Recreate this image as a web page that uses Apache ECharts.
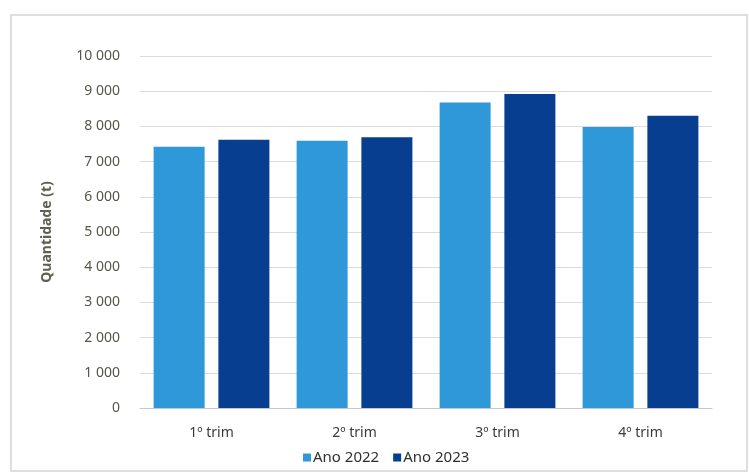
<!DOCTYPE html>
<html><head><meta charset="utf-8">
<script src="https://cdn.jsdelivr.net/npm/echarts@6/dist/echarts.min.js"></script>
<style>html,body{margin:0;padding:0;background:#fff}#c{width:749px;height:473px}</style>
</head><body><div id="c"></div>
<script>
const categories = ['1º trim', '2º trim', '3º trim', '4º trim'];
const ano2022 = [7420, 7590, 8680, 7980];
const ano2023 = [7620, 7690, 8920, 8300];
const yTicks = [0, 1000, 2000, 3000, 4000, 5000, 6000, 7000, 8000, 9000, 10000];

const chart = echarts.init(document.getElementById('c'));
const fmt = v => v >= 1000 ? Math.floor(v/1000) + ' ' + String(v%1000).padStart(3,'0') : String(v);
chart.setOption({
  animation: false,
  textStyle: { fontFamily: 'Noto Sans' },
  graphic: [{ type: 'rect', shape: { x: 11, y: 15, width: 736, height: 456 },
    style: { fill: 'none', stroke: '#d4d4d4', lineWidth: 1.5 } }],
  grid: { left: 140, right: 37, top: 56, bottom: 65 },
  legend: { bottom: 3, left: 298, itemWidth: 8, itemHeight: 8, itemGap: 14,
    icon: 'rect', textStyle: { color: '#303030', fontSize: 15, padding: [0,0,0,-3] } },
  xAxis: { type: 'category', data: categories,
    axisLine: { lineStyle: { color: '#c8c8c8', width: 1 } }, axisTick: { show: false },
    axisLabel: { color: '#3a3a3a', fontSize: 14, margin: 18 } },
  yAxis: { type: 'value', min: yTicks[0], max: yTicks[yTicks.length-1], interval: 1000,
    name: 'Quantidade (t)', nameLocation: 'middle', nameGap: 86, nameRotate: 90,
    nameTextStyle: { color: '#5f6052', fontSize: 14, fontWeight: 'bold' },
    axisLabel: { color: '#55564a', fontSize: 14, margin: 20, formatter: fmt },
    splitLine: { lineStyle: { color: '#dcdcdc', width: 1 } } },
  series: [
    { name: 'Ano 2022', type: 'bar', data: ano2022, barWidth: 51, barGap: '27%', itemStyle: { color: '#2f98d8' } },
    { name: 'Ano 2023', type: 'bar', data: ano2023, barWidth: 51, itemStyle: { color: '#073e90' } }
  ]
});
</script></body></html>
